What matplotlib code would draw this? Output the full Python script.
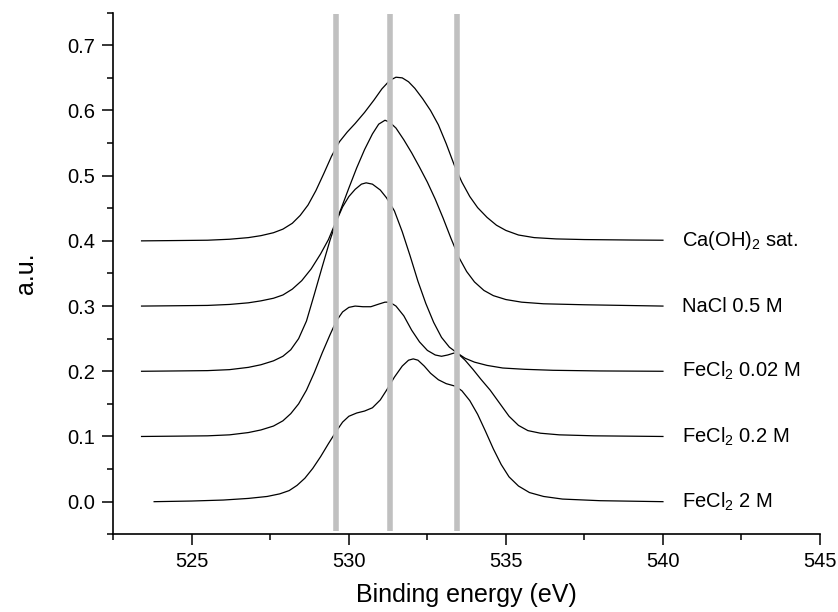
import matplotlib
matplotlib.use("Agg")
import matplotlib.pyplot as plt
from matplotlib.ticker import MultipleLocator

plt.rcParams['font.family'] = ['Liberation Sans', 'DejaVu Sans']
plt.rcParams['mathtext.fontset'] = 'custom'
plt.rcParams['mathtext.rm'] = 'Liberation Sans'
plt.rcParams['mathtext.it'] = 'Liberation Sans:italic'

# ---- data ----
labels = ["Ca(OH)$_2$ sat.", "NaCl 0.5 M", "FeCl$_2$ 0.02 M", "FeCl$_2$ 0.2 M", "FeCl$_2$ 2 M"]
offsets = [0.4, 0.3, 0.2, 0.1, 0.0]

ca_x = [523.4, 524.5, 525.5, 526.2, 526.8, 527.2, 527.6, 527.9, 528.2, 528.45, 528.7, 528.95, 529.2,
        529.45, 529.7, 529.95, 530.2, 530.5, 530.8, 531.05, 531.3, 531.5, 531.7, 531.9, 532.1, 532.35,
        532.6, 532.85, 533.1, 533.35, 533.6, 533.85, 534.1, 534.4, 534.7, 535.0, 535.4, 535.9, 536.6,
        537.5, 539.0, 540.0]
ca_y = [0.400, 0.4005, 0.401, 0.4025, 0.405, 0.408, 0.4125, 0.418, 0.427, 0.439, 0.455, 0.477, 0.503,
        0.530, 0.552, 0.567, 0.580, 0.597, 0.616, 0.633, 0.646, 0.651, 0.650, 0.644, 0.634, 0.618,
        0.600, 0.578, 0.549, 0.517, 0.490, 0.468, 0.451, 0.436, 0.424, 0.416, 0.409, 0.405, 0.403,
        0.402, 0.4013, 0.401]

nacl_x = [523.4, 524.5, 525.5, 526.2, 526.8, 527.2, 527.6, 527.9, 528.2, 528.5, 528.8, 529.1, 529.35,
          529.55, 529.75, 530.0, 530.25, 530.5, 530.75, 530.95, 531.15, 531.3, 531.5, 531.75, 532.0,
          532.25, 532.5, 532.75, 533.0, 533.25, 533.5, 533.75, 534.0, 534.3, 534.6, 535.0, 535.5,
          536.2, 537.5, 540.0]
nacl_y = [0.300, 0.3005, 0.301, 0.3025, 0.305, 0.308, 0.312, 0.317, 0.326, 0.339, 0.357, 0.380, 0.402,
          0.425, 0.449, 0.481, 0.512, 0.540, 0.564, 0.579, 0.585, 0.582, 0.573, 0.555, 0.535,
          0.513, 0.490, 0.464, 0.435, 0.404, 0.375, 0.353, 0.337, 0.324, 0.316, 0.310, 0.306,
          0.3035, 0.302, 0.300]

fe002_x = [523.4, 524.5, 525.5, 526.2, 526.8, 527.2, 527.6, 527.9, 528.15, 528.4, 528.65, 528.9,
           529.15, 529.4, 529.6, 529.8, 530.0, 530.2, 530.4, 530.55, 530.75, 531.0, 531.2, 531.45,
           531.7, 531.95, 532.2, 532.45, 532.7, 532.95, 533.2, 533.45, 533.7, 534.0, 534.4, 534.9,
           535.6, 536.5, 538.0, 540.0]
fe002_y = [0.200, 0.2005, 0.201, 0.2025, 0.206, 0.210, 0.216, 0.223, 0.233, 0.250, 0.277, 0.318,
           0.360, 0.401, 0.430, 0.452, 0.468, 0.479, 0.487, 0.489, 0.487, 0.478, 0.466, 0.446,
           0.414, 0.377, 0.338, 0.304, 0.275, 0.252, 0.237, 0.228, 0.220, 0.214, 0.209, 0.205,
           0.203, 0.2015, 0.2005, 0.200]

fe02_x = [523.4, 524.5, 525.5, 526.2, 526.8, 527.2, 527.6, 527.9, 528.15, 528.4, 528.65, 528.9,
          529.15, 529.4, 529.6, 529.8, 530.0, 530.2, 530.45, 530.7, 530.95, 531.15, 531.3, 531.5,
          531.75, 532.0, 532.25, 532.5, 532.75, 532.95, 533.15, 533.35, 533.5, 533.7, 533.95, 534.2,
          534.5, 534.8, 535.1, 535.4, 535.7, 536.1, 536.7, 537.8, 540.0]
fe02_y = [0.100, 0.1005, 0.101, 0.1025, 0.106, 0.110, 0.116, 0.124, 0.135, 0.150, 0.171, 0.198,
          0.228, 0.256, 0.277, 0.291, 0.298, 0.300, 0.299, 0.299, 0.303, 0.306, 0.306, 0.300,
          0.285, 0.263, 0.245, 0.232, 0.225, 0.223, 0.225, 0.228, 0.226, 0.217, 0.203, 0.188,
          0.171, 0.151, 0.131, 0.117, 0.109, 0.105, 0.1025, 0.101, 0.100]

fe2_x = [523.8, 525.0, 526.0, 526.8, 527.4, 527.8, 528.1, 528.35, 528.6, 528.85, 529.1, 529.35,
         529.6, 529.8, 530.0, 530.25, 530.5, 530.75, 531.0, 531.2, 531.45, 531.7, 531.9, 532.05,
         532.2, 532.4, 532.6, 532.85, 533.1, 533.4, 533.6, 533.85, 534.1, 534.35, 534.6, 534.85,
         535.1, 535.4, 535.75, 536.2, 536.8, 538.0, 540.0]
fe2_y = [0.000, 0.001, 0.0025, 0.005, 0.008, 0.012, 0.017, 0.025, 0.036, 0.051, 0.069, 0.089,
         0.108, 0.122, 0.131, 0.136, 0.139, 0.144, 0.156, 0.171, 0.191, 0.208, 0.217, 0.219,
         0.217, 0.208, 0.197, 0.187, 0.181, 0.177, 0.170, 0.155, 0.134, 0.108, 0.081, 0.057,
         0.038, 0.024, 0.014, 0.008, 0.004, 0.0015, 0.000]

series = [(ca_x, ca_y), (nacl_x, nacl_y), (fe002_x, fe002_y), (fe02_x, fe02_y), (fe2_x, fe2_y)]

bar_positions = [529.58, 531.32, 533.44]

x_ticks = [525, 530, 535, 540, 545]
y_ticks = [0.0, 0.1, 0.2, 0.3, 0.4, 0.5, 0.6, 0.7]

# ---- figure ----
fig = plt.figure(figsize=(8.38, 6.12), dpi=100)
ax = fig.add_axes([0.1352, 0.127, 0.8433, 0.8523])

for (xs, ys) in series:
    ax.plot(xs, ys, color='black', lw=0.9, zorder=2, solid_joinstyle='round')

ax.vlines(bar_positions, -0.045, 0.748, colors='#c0c0c0', lw=4.0, zorder=3)

for lab, off in zip(labels, offsets):
    ax.text(540.6, off, lab, fontsize=14.5, ha='left', va='center')

ax.set_xlim(522.5, 545)
ax.set_ylim(-0.05, 0.75)
ax.set_xticks(x_ticks)
ax.set_yticks(y_ticks)
ax.set_yticklabels([f"{v:.1f}" for v in y_ticks])
ax.xaxis.set_minor_locator(MultipleLocator(2.5))
ax.yaxis.set_minor_locator(MultipleLocator(0.05))

for s in ['top', 'right']:
    ax.spines[s].set_visible(False)
for s in ['left', 'bottom']:
    ax.spines[s].set_linewidth(1.2)

ax.tick_params(which='major', direction='out', length=8, width=1.1, labelsize=14.5, pad=5)
ax.tick_params(which='minor', direction='out', length=4.3, width=1.1)

ax.set_xlabel("Binding energy (eV)", fontsize=18, va='center')
ax.xaxis.set_label_coords(0.5, -0.116)
ax.set_ylabel("a.u.", fontsize=18, va='center')
ax.yaxis.set_label_coords(-0.1235, 0.5)

fig.savefig("out.png", dpi=100)
